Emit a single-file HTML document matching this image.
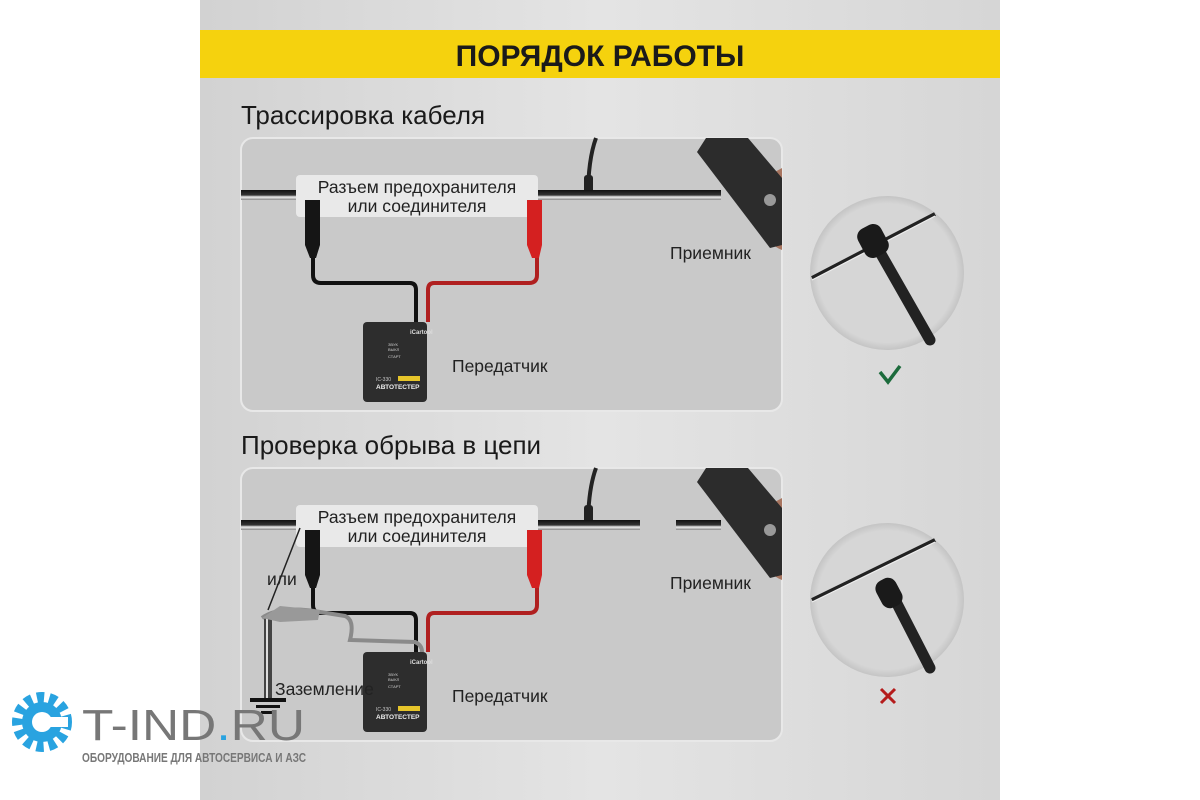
<!DOCTYPE html>
<html><head><meta charset="utf-8"><style>
html,body{margin:0;padding:0;background:#fff;}
svg{display:block;font-family:"Liberation Sans","DejaVu Sans",sans-serif;}
</style></head><body>
<svg width="1200" height="800" viewBox="0 0 1200 800" xmlns="http://www.w3.org/2000/svg">
<defs>
<linearGradient id="bg" x1="0" y1="0" x2="1" y2="0">
<stop offset="0" stop-color="#d2d2d2"/><stop offset="0.5" stop-color="#e4e4e4"/><stop offset="1" stop-color="#d6d6d6"/>
</linearGradient>
<linearGradient id="wire" x1="0" y1="0" x2="0" y2="1">
<stop offset="0" stop-color="#111"/><stop offset="0.5" stop-color="#333"/><stop offset="0.7" stop-color="#eee"/><stop offset="1" stop-color="#888"/>
</linearGradient>
<radialGradient id="circ" cx="0.5" cy="0.5" r="0.5">
<stop offset="0.9" stop-color="#d6d6d6"/><stop offset="1" stop-color="#c4c4c4"/>
</radialGradient>
<g id="scene">
<rect x="241" y="138" width="541" height="273" rx="12" fill="#c9c9c9" stroke="#e8e8e8" stroke-width="2"/>
<path d="M596 138 Q588 160 588 197" stroke="#222" stroke-width="4" fill="none"/>
<rect x="584" y="175" width="9" height="22" rx="3" fill="#222"/>
<rect x="241" y="190" width="480" height="10" fill="url(#wire)"/>
<!-- receiver -->
<path d="M760 180 Q775 172 782 168 L782 250 Q768 245 762 225 Z" fill="#a87560"/>
<polygon points="697,152 706,138 748,138 782,178 782,245 770,248" fill="#2c2c2c"/>
<circle cx="770" cy="200" r="6" fill="#999"/>
<rect x="296" y="175" width="242" height="42" rx="4" fill="#e9e9e9"/>
<text x="417" y="193" font-size="17.5" text-anchor="middle" fill="#222">Разъем предохранителя</text>
<text x="417" y="212" font-size="17.5" text-anchor="middle" fill="#222">или соединителя</text>
<path d="M313 255 L313 275 Q313 283 321 283 L410 283 Q416 283 416 290 L416 322" stroke="#111" stroke-width="4" fill="none"/>
<path d="M537 255 L537 275 Q537 283 529 283 L434 283 Q428 283 428 290 L428 322" stroke="#b02020" stroke-width="4" fill="none"/>
<path d="M305 200 L320 200 L320 245 L316 258 L310 258 L305 245 Z" fill="#151515"/>
<path d="M527 200 L542 200 L542 245 L539 258 L532 258 L527 245 Z" fill="#d42020"/>
<rect x="363" y="322" width="64" height="80" rx="4" fill="#2d2d2d"/>
<text x="410" y="334" font-size="6" fill="#ddd" font-weight="bold">iCartool</text>
<text x="388" y="346" font-size="4" fill="#ccc">ЗВУК</text>
<text x="388" y="351" font-size="4" fill="#ccc">ВЫКЛ</text>
<text x="388" y="358" font-size="4" fill="#ccc">СТАРТ</text>
<rect x="398" y="376" width="22" height="5" fill="#e6c52a"/>
<text x="376" y="381" font-size="5" fill="#ccc">IC-330</text>
<text x="376" y="389" font-size="6.5" fill="#eee" font-weight="bold">АВТОТЕСТЕР</text>
<text x="452" y="372" font-size="17.5" fill="#222">Передатчик</text>
<text x="670" y="259" font-size="17.5" fill="#222">Приемник</text>
</g>
</defs>
<rect x="0" y="0" width="1200" height="800" fill="#fff"/>
<rect x="200" y="0" width="800" height="800" fill="url(#bg)"/>
<rect x="200" y="30" width="800" height="48" fill="#f5d20e"/>
<text x="600" y="66" font-size="30" font-weight="bold" text-anchor="middle" fill="#1a1a1a">ПОРЯДОК РАБОТЫ</text>
<text x="241" y="124" font-size="26" fill="#1a1a1a">Трассировка кабеля</text>
<text x="241" y="454" font-size="26" fill="#1a1a1a">Проверка обрыва в цепи</text>
<use href="#scene"/>
<use href="#scene" y="330"/>
<rect x="640" y="518" width="36" height="12" fill="#c9c9c9"/>
<line x1="300" y1="528" x2="268" y2="610" stroke="#222" stroke-width="1.5"/>
<rect x="264" y="618" width="8" height="80" fill="#444"/>
<rect x="266" y="618" width="2" height="80" fill="#ddd"/>
<rect x="250" y="698" width="36" height="4" fill="#111"/>
<rect x="256" y="705" width="24" height="3" fill="#111"/>
<rect x="261" y="711" width="14" height="3" fill="#111"/>
<path d="M262 618 Q280 605 320 612 L345 616 Q355 620 350 640 L415 642 Q422 645 422 652" stroke="#8a8a8a" stroke-width="4" fill="none"/>
<path d="M262 618 L280 606 L320 610 L318 620 L280 622 Z" fill="#999"/>
<text x="267" y="585" font-size="17.5" fill="#222">или</text>
<text x="275" y="695" font-size="17.5" fill="#222">Заземление</text>
<circle cx="887" cy="273" r="77" fill="url(#circ)"/>
<line x1="812" y1="278" x2="935" y2="214" stroke="#222" stroke-width="4"/>
<line x1="812" y1="280" x2="935" y2="216" stroke="#eee" stroke-width="1.2"/>
<line x1="873" y1="240" x2="930" y2="340" stroke="#222" stroke-width="11" stroke-linecap="round"/>
<rect x="860" y="225" width="26" height="32" rx="9" fill="#1a1a1a" transform="rotate(-28 873 241)"/>
<path d="M880 372 L888 382 L900 366" stroke="#1c6b3c" stroke-width="3.5" fill="none"/>
<circle cx="887" cy="600" r="77" fill="url(#circ)"/>
<line x1="812" y1="600" x2="935" y2="540" stroke="#222" stroke-width="4"/>
<line x1="812" y1="602" x2="935" y2="542" stroke="#eee" stroke-width="1.2"/>
<line x1="890" y1="590" x2="930" y2="668" stroke="#222" stroke-width="11" stroke-linecap="round"/>
<rect x="878" y="578" width="22" height="30" rx="9" fill="#1a1a1a" transform="rotate(-28 889 593)"/>
<path d="M881 689 L895 703 M895 689 L881 703" stroke="#b51c1c" stroke-width="3"/>
<g transform="translate(42,722)">
<circle r="24" fill="none" stroke="#29a3e0" stroke-width="12" stroke-dasharray="7 5"/>
<circle r="20" fill="#29a3e0"/>
<circle r="10" fill="#fff"/>
<rect x="0" y="-5" width="26" height="10" fill="#fff"/>
</g>
<text x="82" y="740" font-size="44" fill="#777" textLength="223" lengthAdjust="spacingAndGlyphs">T-IND<tspan fill="#29a3e0">.</tspan>RU</text>
<text x="82" y="762" font-size="13" fill="#777" font-weight="bold" textLength="224" lengthAdjust="spacingAndGlyphs">ОБОРУДОВАНИЕ ДЛЯ АВТОСЕРВИСА И АЗС</text>
</svg>
</body></html>
